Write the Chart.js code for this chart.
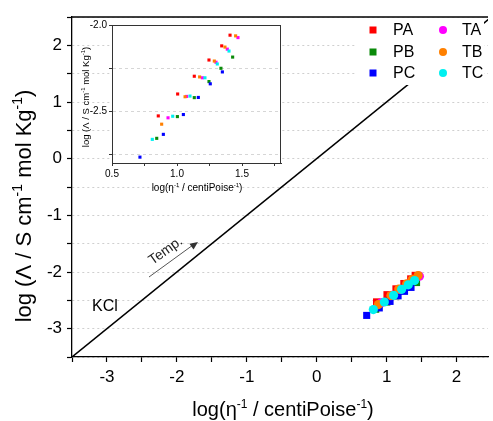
<!DOCTYPE html>
<html>
<head>
<meta charset="utf-8">
<script src="https://cdn.jsdelivr.net/npm/chart.js@4/dist/chart.umd.min.js"></script>
<style>
  html, body { margin: 0; padding: 0; background: #fff; }
  #wrap { position: relative; width: 493px; height: 421px; overflow: hidden; }
  #main { position: absolute; left: 0; top: 0; }
  #inset { position: absolute; left: 60px; top: 5px; }
</style>
</head>
<body>
<div id="wrap">
  <canvas id="main" width="493" height="421"></canvas>
  <canvas id="inset" width="235" height="195"></canvas>
</div>
<script>
// log(1/viscosity) values, one list per electrolyte
const paX = [0.856, 1.005, 1.133, 1.246, 1.344, 1.408];
const paY = [-2.527, -2.400, -2.297, -2.203, -2.121, -2.059];
const pbX = [0.844, 1.003, 1.133, 1.246, 1.338, 1.428];
const pbY = [-2.657, -2.531, -2.421, -2.328, -2.251, -2.186];
const pcX = [0.715, 0.895, 1.049, 1.164, 1.256, 1.349];
const pcY = [-2.766, -2.634, -2.519, -2.420, -2.341, -2.272];
const taX = [0.931, 1.074, 1.195, 1.300, 1.387, 1.469];
const taY = [-2.538, -2.414, -2.306, -2.216, -2.140, -2.073];
const tbX = [0.882, 1.062, 1.174, 1.287, 1.369, 1.451];
const tbY = [-2.575, -2.416, -2.301, -2.209, -2.128, -2.063];
const tcX = [0.810, 0.967, 1.100, 1.215, 1.310, 1.400];
const tcY = [-2.663, -2.529, -2.412, -2.306, -2.226, -2.151];

// ideal KCl reference line
const kclX = [-3.5, 2.5];
const kclY = [-3.5, 2.5];

const seriesNames = ['PA', 'PB', 'PC', 'TA', 'TB', 'TC'];
const seriesColors = ['#ff0000', '#0a8a0a', '#0000ff', '#ff00ff', '#ff8000', '#00f0f0'];
const seriesStyles = ['rect', 'rect', 'rect', 'circle', 'circle', 'circle'];
const seriesX = [paX, pbX, pcX, taX, tbX, tcX];
const seriesY = [paY, pbY, pcY, taY, tbY, tcY];

const FONT = '"Liberation Sans", Arial, sans-serif';

const points = (xs, ys) => xs.map((x, i) => ({ x: x, y: ys[i] }));
const onStep = (v, step) => Math.abs(v / step - Math.round(v / step)) < 1e-6;

// rich text with superscripts, centred on x
function drawRich (ctx, parts, x, y, size) {
  const supSize = Math.round(size * 0.62);
  let total = 0;
  parts.forEach(([t, sup]) => {
    ctx.font = (sup ? supSize : size) + 'px ' + FONT;
    total += ctx.measureText(t).width;
  });
  let cx = x - total / 2;
  ctx.textAlign = 'left';
  ctx.textBaseline = 'alphabetic';
  parts.forEach(([t, sup]) => {
    ctx.font = (sup ? supSize : size) + 'px ' + FONT;
    ctx.fillText(t, cx, sup ? y - size * 0.4 : y);
    cx += ctx.measureText(t).width;
  });
}

const xTitle = [['log(\u03B7', false], ['-1', true], [' / centiPoise', false], ['-1', true], [')', false]];
const yTitle = [['log (\u039B / S cm', false], ['-1', true], [' mol Kg', false], ['-1', true], [')', false]];

// datasets drawn last-first, so the T series end up on top
function buildSets (radiusRect, radiusCircle, small) {
  const sets = [];
  for (let i = seriesNames.length - 1; i >= 0; i--) {
    sets.push({
      label: seriesNames[i],
      data: points(seriesX[i], seriesY[i]),
      backgroundColor: seriesColors[i],
      borderWidth: 0,
      pointStyle: small ? 'rect' : seriesStyles[i],
      pointRadius: seriesStyles[i] === 'rect' || small ? radiusRect : radiusCircle
    });
  }
  return sets;
}

const mainDecor = {
  id: 'mainDecor',
  afterDraw (chart) {
    const ctx = chart.ctx;
    const area = chart.chartArea;
    ctx.save();

    // top frame line
    ctx.strokeStyle = '#000';
    ctx.lineWidth = 1.3;
    ctx.beginPath();
    ctx.moveTo(area.left, area.top);
    ctx.lineTo(area.right, area.top);
    ctx.stroke();

    // legend box, hides the KCl line behind it
    ctx.fillStyle = '#fff';
    ctx.fillRect(355, 20, 129, 65);
    const rows = [30, 52, 73];
    ctx.font = '16px ' + FONT;
    ctx.textBaseline = 'middle';
    ctx.textAlign = 'left';
    seriesNames.forEach((name, i) => {
      const col = i < 3 ? 0 : 1;
      const y = rows[i % 3];
      const mx = col ? 443 : 373;
      ctx.fillStyle = seriesColors[i];
      if (seriesStyles[i] === 'rect') {
        ctx.fillRect(mx - 3.5, y - 3.5, 7, 7);
      } else {
        ctx.beginPath();
        ctx.arc(mx, y, 4, 0, Math.PI * 2);
        ctx.fill();
      }
      ctx.fillStyle = '#000';
      ctx.fillText(name, col ? 462 : 393, y + 1);
    });

    // KCl label
    ctx.font = '16px ' + FONT;
    ctx.fillStyle = '#000';
    ctx.textBaseline = 'alphabetic';
    ctx.fillText('KCl', 92, 311);

    // temperature arrow
    ctx.strokeStyle = '#555';
    ctx.fillStyle = '#333';
    ctx.lineWidth = 1;
    ctx.beginPath();
    ctx.moveTo(149, 277);
    ctx.lineTo(193, 245);
    ctx.stroke();
    const ang = Math.atan2(242 - 277, 198 - 149);
    ctx.save();
    ctx.translate(198, 242);
    ctx.rotate(ang);
    ctx.beginPath();
    ctx.moveTo(0, 0);
    ctx.lineTo(-8, -3.5);
    ctx.lineTo(-8, 3.5);
    ctx.closePath();
    ctx.fill();
    ctx.restore();

    ctx.save();
    ctx.translate(168, 254);
    ctx.rotate(ang);
    ctx.font = '14px ' + FONT;
    ctx.textAlign = 'center';
    ctx.fillStyle = '#222';
    ctx.fillText('Temp.', 0, 0);
    ctx.restore();

    // axis titles
    ctx.fillStyle = '#000';
    drawRich(ctx, xTitle, 283, 416, 20);
    ctx.save();
    ctx.translate(31, 206);
    ctx.rotate(-Math.PI / 2);
    drawRich(ctx, yTitle, 0, 0, 22);
    ctx.restore();

    ctx.restore();
  }
};

const mainSets = buildSets(5, 4.6, false);
mainSets.push({
  label: 'KCl',
  data: points(kclX, kclY),
  showLine: true,
  borderColor: '#000',
  borderWidth: 1.5,
  pointRadius: 0
});

new Chart(document.getElementById('main'), {
  type: 'scatter',
  data: { datasets: mainSets },
  options: {
    responsive: false,
    animation: false,
    layout: { padding: { top: 17, right: 0, left: 0, bottom: 0 } },
    plugins: { legend: { display: false }, tooltip: { enabled: false } },
    scales: {
      x: {
        type: 'linear', min: -3.5, max: 2.45,
        afterBuildTicks: s => { s.ticks = s.ticks.filter(t => onStep(t.value, 0.5)); },
        afterFit: s => { s.height = 64; },
        ticks: {
          stepSize: 0.5, includeBounds: false, autoSkip: false, maxRotation: 0, padding: 5, color: '#000',
          font: { family: FONT, size: 17 },
          callback: v => onStep(v, 1) ? String(Math.round(v)) : ''
        },
        grid: { drawOnChartArea: false, tickColor: '#000', tickLength: 5, tickWidth: 1.2 },
        border: { color: '#000', width: 1.3 }
      },
      y: {
        type: 'linear', min: -3.5, max: 2.5,
        afterBuildTicks: s => { s.ticks = s.ticks.filter(t => onStep(t.value, 0.5)); },
        afterFit: s => { s.width = 72; },
        ticks: {
          stepSize: 0.5, autoSkip: false, padding: 5, color: '#000',
          font: { family: FONT, size: 17 },
          callback: v => onStep(v, 1) ? String(Math.round(v)) : ''
        },
        grid: { color: '#cfcfcf', lineWidth: 1, tickColor: '#000', tickLength: 5, tickWidth: 1.2 },
        border: { color: '#000', width: 1.3, dash: [2, 3] }
      }
    }
  },
  plugins: [mainDecor]
});

const insetDecor = {
  id: 'insetDecor',
  beforeDraw (chart) {
    const a = chart.chartArea;
    chart.ctx.save();
    chart.ctx.fillStyle = '#fff';
    chart.ctx.fillRect(a.left, a.top, a.right - a.left, a.bottom - a.top);
    chart.ctx.restore();
  },
  afterDraw (chart) {
    const ctx = chart.ctx;
    const a = chart.chartArea;
    ctx.save();
    ctx.strokeStyle = '#333';
    ctx.lineWidth = 1;
    ctx.strokeRect(a.left + 0.5, a.top + 0.5, a.right - a.left - 1, a.bottom - a.top);
    ctx.fillStyle = '#000';
    drawRich(ctx, xTitle, 137, 186, 10);
    ctx.save();
    ctx.translate(29, 92);
    ctx.rotate(-Math.PI / 2);
    drawRich(ctx, yTitle, 0, 0, 9.5);
    ctx.restore();
    ctx.restore();
  }
};

new Chart(document.getElementById('inset'), {
  type: 'scatter',
  data: { datasets: buildSets(2.2, 2.2, true) },
  options: {
    responsive: false,
    animation: false,
    layout: { padding: { top: 20, right: 14, left: 0, bottom: 0 } },
    plugins: { legend: { display: false }, tooltip: { enabled: false } },
    scales: {
      x: {
        type: 'linear', min: 0.5, max: 1.8,
        afterBuildTicks: s => { s.ticks = s.ticks.filter(t => onStep(t.value, 0.25)); },
        afterFit: s => { s.height = 37; },
        ticks: {
          stepSize: 0.25, includeBounds: false, autoSkip: false, maxRotation: 0, padding: 2, color: '#000',
          font: { family: FONT, size: 10 },
          callback: v => onStep(v, 0.5) ? v.toFixed(1) : ''
        },
        grid: { drawOnChartArea: false, tickColor: '#333', tickLength: 3 },
        border: { color: '#333', width: 1 }
      },
      y: {
        type: 'linear', min: -2.8, max: -2.0,
        afterBuildTicks: s => { s.ticks = s.ticks.filter(t => onStep(t.value, 0.25)); },
        afterFit: s => { s.width = 52; },
        ticks: {
          stepSize: 0.25, includeBounds: false, autoSkip: false, padding: 2, color: '#000',
          font: { family: FONT, size: 10 },
          callback: v => onStep(v, 0.5) ? v.toFixed(1) : ''
        },
        grid: { color: '#d6d6d6', lineWidth: 1, tickColor: '#333', tickLength: 3 },
        border: { color: '#333', width: 1, dash: [3, 3] }
      }
    }
  },
  plugins: [insetDecor]
});
</script>
</body>
</html>
